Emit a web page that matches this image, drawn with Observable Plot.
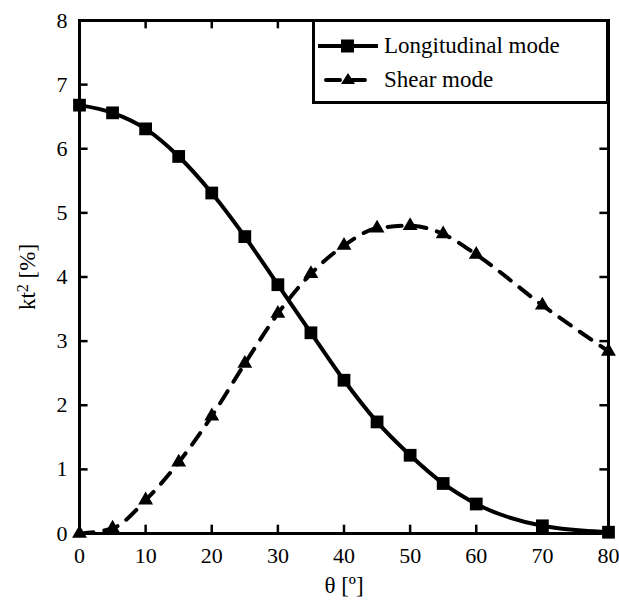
<!DOCTYPE html>
<html>
<head>
<meta charset="utf-8">
<script src="https://cdn.jsdelivr.net/npm/d3@7"></script>
<script src="https://cdn.jsdelivr.net/npm/@observablehq/plot@0.6"></script>
<style>
  html, body { margin: 0; padding: 0; background: #fff; }
  #wrap { position: relative; width: 619px; height: 604px; font-family: "Liberation Serif", "Times New Roman", serif; }
  #wrap svg text { font-family: "Liberation Serif", "Times New Roman", serif !important; }
  #legend { position: absolute; left: 312px; top: 19px; width: 297px; height: 85px; box-sizing: border-box;
            border: 3px solid #000; background: #fff; }
  .row { position: absolute; left: 0; height: 30px; display: flex; align-items: center; }
  .row span { font-size: 23px; color: #000; margin-left: 4px; }
</style>
</head>
<body>
<div id="wrap"></div>
<script>
const angles = [0, 5, 10, 15, 20, 25, 30, 35, 40, 45, 50, 55, 60, 70, 80];
const longitudinal = [6.68, 6.56, 6.31, 5.88, 5.31, 4.63, 3.88, 3.13, 2.39, 1.74, 1.22, 0.78, 0.46, 0.12, 0.02];
const shear = [0.0, 0.08, 0.52, 1.11, 1.83, 2.65, 3.43, 4.05, 4.49, 4.76, 4.80, 4.67, 4.35, 3.56, 2.84];
const xTicks = [0, 10, 20, 30, 40, 50, 60, 70, 80];
const yTicks = [0, 1, 2, 3, 4, 5, 6, 7, 8];
const seriesNames = ["Longitudinal mode", "Shear mode"];
const xLabel = "θ [º]";
const yLabel = "kt2 [%]";

const SERIF = "Liberation Serif";
const longData = angles.map((a, i) => ({a, v: longitudinal[i]}));
const shearData = angles.map((a, i) => ({a, v: shear[i]}));

const xTickLen = 0.13;  // in y units (tick length)
const yTickLen = 1.3;   // in x units

const chart = Plot.plot({
  width: 619,
  height: 604,
  marginLeft: 79,
  marginRight: 11,
  marginTop: 20,
  marginBottom: 71,
  style: "font-family: 'Liberation Serif', 'Times New Roman', serif; font-size: 21px; color: #000; background: #fff;",
  x: {domain: [0, 80]},
  y: {domain: [0, 8]},
  marks: [
    Plot.ruleX(xTicks, {x: d => d, y1: 0, y2: xTickLen, stroke: "#000", strokeWidth: 2.5}),
    Plot.ruleX(xTicks, {x: d => d, y1: 8 - xTickLen, y2: 8, stroke: "#000", strokeWidth: 2.5}),
    Plot.ruleY(yTicks, {y: d => d, x1: 0, x2: yTickLen, stroke: "#000", strokeWidth: 2.5}),
    Plot.ruleY(yTicks, {y: d => d, x1: 80 - yTickLen, x2: 80, stroke: "#000", strokeWidth: 2.5}),
    Plot.axisX({ticks: xTicks, tickSize: 0, tickPadding: 14, fontSize: 22, fontFamily: SERIF, label: null}),
    Plot.axisY({ticks: yTicks, tickSize: 0, tickPadding: 12, fontSize: 22, fontFamily: SERIF, label: null}),
    Plot.line(shearData, {x: "a", y: "v", curve: "monotone-x", stroke: "#000", strokeWidth: 4, strokeDasharray: "14,11", strokeLinecap: "round"}),
    Plot.line(longData, {x: "a", y: "v", curve: "monotone-x", stroke: "#000", strokeWidth: 4}),
    Plot.dot(shearData, {x: "a", y: "v", symbol: "triangle", r: 5.5, fill: "#000", stroke: "none"}),
    Plot.dot(longData, {x: "a", y: "v", symbol: "square", r: 7.2, fill: "#000", stroke: "none"}),
    Plot.frame({stroke: "#000", strokeWidth: 3}),
    Plot.text([xLabel], {frameAnchor: "bottom", dy: 52, fontSize: 23, fontFamily: SERIF, textAnchor: "middle", lineAnchor: "middle"}),
    Plot.text([yLabel], {frameAnchor: "left", dx: -52, rotate: -90, fontSize: 23, fontFamily: SERIF, textAnchor: "middle", lineAnchor: "middle"})
  ]
});

// render the "2" of the y label as a superscript
d3.select(chart).selectAll("text")
  .filter(function() { return this.textContent === yLabel; })
  .each(function() {
    const t = d3.select(this);
    t.text(null);
    t.append("tspan").text("kt");
    t.append("tspan").attr("dy", "-0.45em").attr("font-size", "0.7em").text("2");
    t.append("tspan").attr("dy", "0.315em").text(" [%]");
  });

const wrap = document.getElementById("wrap");
wrap.appendChild(chart);

const legend = document.createElement("div");
legend.id = "legend";
legend.innerHTML = `
  <div class="row" style="top:9px;left:3px">
    <svg width="62" height="30"><line x1="0" y1="15" x2="60" y2="15" stroke="#000" stroke-width="4"/>
      <rect x="23" y="8.5" width="13" height="13" fill="#000"/></svg>
    <span>${seriesNames[0]}</span>
  </div>
  <div class="row" style="top:43px;left:3px">
    <svg width="62" height="30"><line x1="4" y1="15" x2="58" y2="15" stroke="#000" stroke-width="4" stroke-linecap="round" stroke-dasharray="14,11" stroke-dashoffset="-4"/>
      <path d="M30,8 L37,19 L23,19 Z" fill="#000"/></svg>
    <span>${seriesNames[1]}</span>
  </div>`;
wrap.appendChild(legend);
</script>
</body>
</html>
